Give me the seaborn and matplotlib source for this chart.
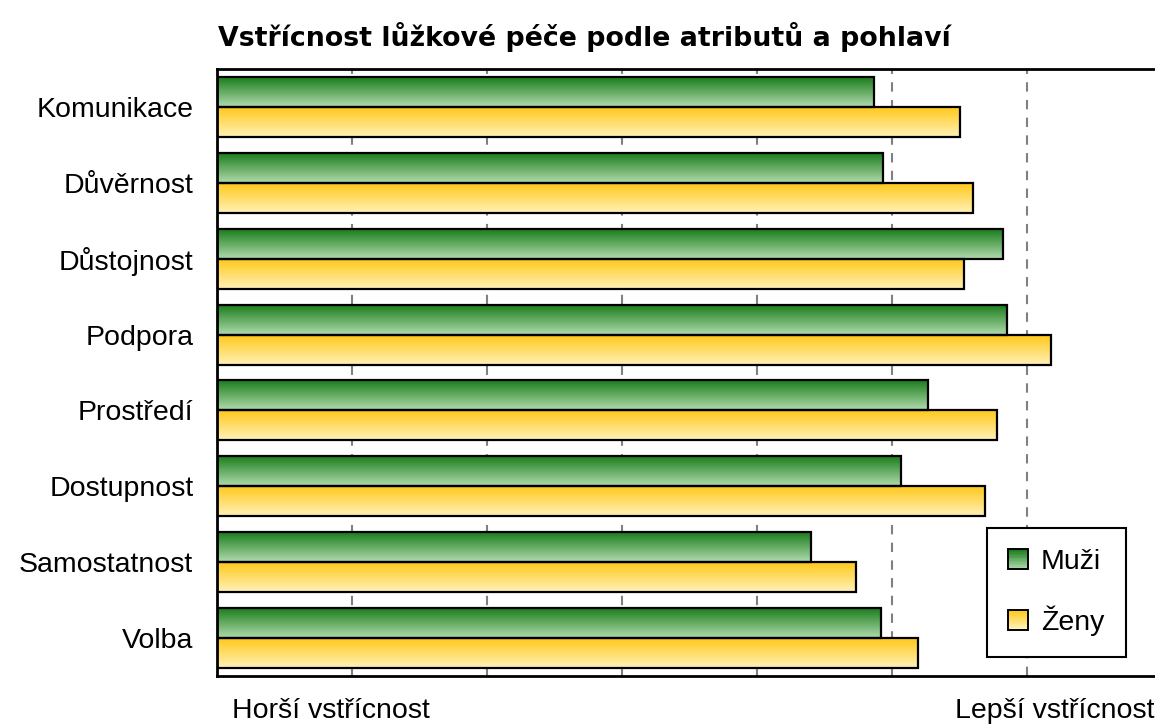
import numpy as np
import pandas as pd
import matplotlib
matplotlib.use("Agg")
import matplotlib.pyplot as plt
import seaborn as sns
from matplotlib.patches import Rectangle
from matplotlib.legend_handler import HandlerPatch
from matplotlib.colors import to_rgb

categories = ["Komunikace", "Důvěrnost", "Důstojnost", "Podpora",
              "Prostředí", "Dostupnost", "Samostatnost", "Volba"]
muzi = [4.87, 4.93, 5.82, 5.85, 5.27, 5.07, 4.40, 4.92]
zeny = [5.50, 5.60, 5.53, 6.18, 5.78, 5.69, 4.73, 5.19]
groups = ["Muži", "Ženy"]

# gradient colours (top -> bottom of each bar)
grad = {"Muži": ("#1b7d1b", "#b0dbae"), "Ženy": ("#ffc81a", "#fff2b8")}

df = pd.DataFrame({
    "atribut": categories * 2,
    "hodnota": muzi + zeny,
    "pohlavi": ["Muži"] * len(categories) + ["Ženy"] * len(categories),
})

sns.set_style("white")
plt.rcParams["font.family"] = ["Liberation Sans", "DejaVu Sans"]
plt.rcParams["text.color"] = "black"
plt.rcParams["ytick.color"] = "black"
plt.rcParams["ytick.labelcolor"] = "black"


def ramp(c1, c2, n=64):
    a, b = np.array(to_rgb(c1)), np.array(to_rgb(c2))
    t = np.linspace(0, 1, n)[:, None]
    return (a * (1 - t) + b * t)[:, None, :]


class GradientHandler(HandlerPatch):
    def __init__(self, colors):
        super().__init__()
        self.colors = colors

    def create_artists(self, legend, orig_handle, xdescent, ydescent,
                       width, height, fontsize, trans):
        arts = []
        n = 14
        g = ramp(*self.colors, n)[:, 0, :]
        for i in range(n):
            y = -ydescent + height * (1 - (i + 1) / n)
            arts.append(Rectangle((-xdescent, y), width, height / n,
                                  facecolor=g[i], edgecolor="none", transform=trans))
        arts.append(Rectangle((-xdescent, -ydescent), width, height,
                              facecolor="none", edgecolor="black", lw=1.4, transform=trans))
        return arts


fig = plt.figure(figsize=(11.55, 7.24), dpi=100)
ax = fig.add_axes([217 / 1155, 1 - 676 / 724, 945 / 1155, (676 - 69) / 724])

sns.barplot(data=df, y="atribut", x="hodnota", hue="pohlavi", order=categories,
            hue_order=groups, orient="h", width=0.79, ax=ax, legend=False,
            edgecolor="black", linewidth=1.6, saturation=1)

ax.set_xlim(0, 7)
ax.set_ylim(len(categories) - 0.5, -0.5)

# gradient fill for every bar
bars = [p for p in ax.patches if isinstance(p, Rectangle)]
for p in bars:
    x0, y0 = p.get_x(), p.get_y()
    w, h = p.get_width(), p.get_height()
    if w <= 0:
        continue
    yc = y0 + h / 2
    key = "Muži" if yc < round(yc) else "Ženy"
    img = ax.imshow(ramp(*grad[key]), extent=(x0, x0 + w, y0 + h, y0),
                    origin="upper", aspect="auto", zorder=2, interpolation="bilinear")
    img.set_clip_path(p)
    p.set_facecolor("none")
    p.set_zorder(3)

ax.set_xlim(0, 7)
ax.set_ylim(len(categories) - 0.5, -0.5)

for gx in range(1, 7):
    ax.axvline(gx, color="#808080", lw=1.5, ls=(0, (4.5, 4)), zorder=0)

ax.set_xlabel("")
ax.set_ylabel("")
ax.set_xticks([])
ax.set_yticks(range(len(categories)))
ax.set_yticklabels(categories, fontsize=20.5)
ax.tick_params(axis="y", which="major", length=0, pad=17)
ax.set_yticks(np.arange(-0.5, len(categories)), minor=True)
ax.tick_params(axis="y", which="minor", length=10, width=1.8, color="black", direction="out")

for s in ["left", "top", "bottom"]:
    ax.spines[s].set_visible(True)
    ax.spines[s].set_color("black")
    ax.spines[s].set_linewidth(2)
ax.spines["right"].set_visible(False)

handles = [Rectangle((0, 0), 1, 1) for _ in groups]
leg = fig.legend(handles, groups,
                 handler_map={handles[0]: GradientHandler(grad["Muži"]),
                              handles[1]: GradientHandler(grad["Ženy"])},
                 loc="upper left", bbox_to_anchor=(987 / 1155, 1 - 528 / 724),
                 fontsize=20.5, frameon=True, fancybox=False, shadow=False,
                 handlelength=0.7, handleheight=0.7, handletextpad=0.45,
                 labelspacing=1.05, borderpad=0.75, borderaxespad=0)
leg.get_frame().set_edgecolor("black")
leg.get_frame().set_linewidth(1.5)
leg.get_frame().set_alpha(1)

fig.text(218 / 1155, 1 - 37 / 724, "Vstřícnost lůžkové péče podle atributů a pohlaví",
         fontsize=19.3, fontweight="bold", ha="left", va="center",
         family=["DejaVu Sans"])
fig.text(232 / 1155, 1 - 711 / 724, "Horší vstřícnost", fontsize=20.5, ha="left", va="center")
fig.text(955 / 1155, 1 - 711 / 724, "Lepší vstřícnost", fontsize=20.5, ha="left", va="center")

fig.savefig("out.png", dpi=100)
